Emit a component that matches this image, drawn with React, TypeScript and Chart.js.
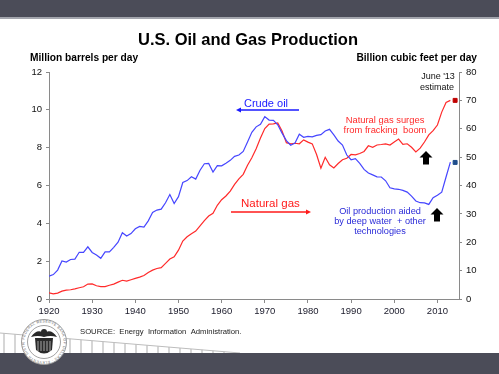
import React, { useEffect, useRef } from "react";
import { Chart, registerables } from "chart.js";

Chart.register(...registerables);

const startYear = 1920;
const years: number[] = Array.from({ length: 94 }, (_, i) => startYear + i);

// Crude oil, million barrels per day (left axis)
const crudeOil: number[] = [
  1.21, 1.29, 1.53, 2.01, 1.95, 2.09, 2.11, 2.47, 2.46, 2.76,
  2.46, 2.33, 2.15, 2.49, 2.49, 2.73, 3.0, 3.5, 3.33, 3.46,
  3.71, 3.84, 3.8, 4.13, 4.58, 4.7, 4.75, 5.09, 5.52, 5.05,
  5.41, 6.16, 6.26, 6.46, 6.34, 6.81, 7.15, 7.17, 6.71, 7.05,
  7.04, 7.18, 7.33, 7.54, 7.61, 7.8, 8.3, 8.81, 9.1, 9.24,
  9.64, 9.46, 9.44, 9.21, 8.77, 8.37, 8.13, 8.24, 8.71, 8.55,
  8.6, 8.57, 8.65, 8.69, 8.88, 8.97, 8.68, 8.35, 8.14, 7.61,
  7.36, 7.42, 7.17, 6.85, 6.66, 6.56, 6.46, 6.45, 6.25, 5.88,
  5.82, 5.8, 5.74, 5.65, 5.44, 5.18, 5.09, 5.08, 5.0, 5.35,
  5.48, 5.65, 6.45, 7.24,
];

// Natural gas, billion cubic feet per day (right axis)
const naturalGas: number[] = [
  2.19, 1.81, 2.08, 2.77, 3.12, 3.26, 3.59, 3.97, 4.3, 5.26,
  5.32, 4.68, 4.36, 4.38, 4.85, 5.26, 5.95, 6.6, 6.3, 6.79,
  7.29, 7.7, 8.3, 9.34, 10.16, 10.74, 11.04, 12.55, 14.11, 14.85,
  17.21, 20.44, 21.95, 23.01, 23.95, 25.78, 27.62, 29.26, 30.22, 33.01,
  34.99, 36.3, 38.03, 40.41, 42.36, 43.95, 47.15, 49.78, 52.93, 56.71,
  60.05, 61.62, 61.73, 62.05, 59.18, 55.1, 54.66, 54.88, 54.71, 56.08,
  55.29, 54.68, 50.9, 46.08, 49.95, 47.32, 46.19, 47.75, 49.1, 49.59,
  50.93, 50.77, 51.26, 52.0, 54.0, 53.45, 54.27, 54.44, 54.68, 54.27,
  55.34, 56.36, 54.49, 54.71, 53.48, 51.86, 53.18, 55.34, 57.84, 59.32,
  61.32, 65.86, 69.26, 70.0,
];

// June '13 estimates
const estimateYear = 2014.1;
const gasEstimate = 70.0;
const oilEstimate = 7.22;

const xMin = 1920;
const xMax = 2015;
const leftMax = 12;
const leftStep = 2;
const rightMax = 80;
const rightStep = 10;

const FONT = '"Liberation Sans", Arial, Helvetica, sans-serif';

function upArrow(ctx: CanvasRenderingContext2D, cx: number, top: number) {
  ctx.beginPath();
  ctx.moveTo(cx, top);
  ctx.lineTo(cx + 6.5, top + 6.5);
  ctx.lineTo(cx + 3, top + 6.5);
  ctx.lineTo(cx + 3, top + 13.5);
  ctx.lineTo(cx - 3, top + 13.5);
  ctx.lineTo(cx - 3, top + 6.5);
  ctx.lineTo(cx - 6.5, top + 6.5);
  ctx.closePath();
  ctx.fillStyle = "#000";
  ctx.fill();
}

const annotationPlugin = {
  id: "annotations",
  afterDraw(chart: any) {
    const ctx: CanvasRenderingContext2D = chart.ctx;
    ctx.save();
    ctx.textBaseline = "middle";

    // Title
    ctx.fillStyle = "#000";
    ctx.textAlign = "center";
    ctx.font = `bold 16.5px ${FONT}`;
    ctx.fillText("U.S. Oil and Gas Production", 248, 40);

    // Axis titles
    ctx.font = `bold 10.2px ${FONT}`;
    ctx.textAlign = "left";
    ctx.fillText("Million barrels per day", 30, 58);
    ctx.textAlign = "right";
    ctx.fillText("Billion cubic feet per day", 477, 58);

    // June '13 estimate
    ctx.font = `9px ${FONT}`;
    ctx.textAlign = "center";
    ctx.fillStyle = "#111";
    ctx.fillText("June '13", 438, 77);
    ctx.fillText("estimate", 437, 88);

    // Crude oil label with arrow
    ctx.font = `11px ${FONT}`;
    ctx.fillStyle = "#1a1aff";
    ctx.textAlign = "left";
    ctx.fillText("Crude oil", 244, 104);
    ctx.strokeStyle = "#1a1aff";
    ctx.lineWidth = 1.3;
    ctx.beginPath();
    ctx.moveTo(239, 110);
    ctx.lineTo(299, 110);
    ctx.stroke();
    ctx.beginPath();
    ctx.moveTo(236, 110);
    ctx.lineTo(241, 107.5);
    ctx.lineTo(241, 112.5);
    ctx.closePath();
    ctx.fillStyle = "#1a1aff";
    ctx.fill();

    // Natural gas label with arrow
    ctx.fillStyle = "#ff1a1a";
    ctx.font = `11.5px ${FONT}`;
    ctx.fillText("Natural gas", 241, 204);
    ctx.strokeStyle = "#ff1a1a";
    ctx.beginPath();
    ctx.moveTo(231, 212);
    ctx.lineTo(307, 212);
    ctx.stroke();
    ctx.beginPath();
    ctx.moveTo(311, 212);
    ctx.lineTo(306, 209.5);
    ctx.lineTo(306, 214.5);
    ctx.closePath();
    ctx.fill();

    // Gas annotation
    ctx.font = `9.4px ${FONT}`;
    ctx.textAlign = "center";
    ctx.fillStyle = "#ff2a2a";
    ctx.fillText("Natural gas surges", 385, 120);
    ctx.fillText("from fracking  boom", 385, 130);

    // Oil annotation
    ctx.font = `9.2px ${FONT}`;
    ctx.fillStyle = "#2a2ad8";
    ctx.fillText("Oil production aided", 380, 211);
    ctx.fillText("by deep water  + other", 380, 221);
    ctx.fillText("technologies", 380, 231);

    upArrow(ctx, 426, 151);
    upArrow(ctx, 437, 208);

    // Source
    ctx.textAlign = "left";
    ctx.fillStyle = "#222";
    ctx.font = `7.7px ${FONT}`;
    ctx.fillText("SOURCE:  Energy  Information  Administration.", 80, 332);

    ctx.restore();
  },
};

function Decorations() {
  const stripes: number[] = [];
  for (let x = 4; x < 245; x += 11) stripes.push(x);
  const yEdge = (x: number) => 333 + (x / 240) * 20;
  return (
    <svg
      width={499}
      height={374}
      style={{ position: "absolute", left: 0, top: 0 }}
    >
      <rect x={0} y={0} width={499} height={17} fill="#4b4c58" />
      <rect x={0} y={17} width={499} height={2} fill="#a3a5ad" />
      {stripes.map((x) => (
        <line
          key={x}
          x1={x}
          x2={x}
          y1={yEdge(x)}
          y2={353}
          stroke="#c9c9c9"
          strokeWidth={1.5}
        />
      ))}
      <line x1={0} y1={333} x2={240} y2={353} stroke="#bdbdbd" strokeWidth={1} />
      <rect x={0} y={353} width={499} height={21} fill="#4b4c58" />
      {/* Seal */}
      <circle cx={44} cy={342} r={22.5} fill="#fff" stroke="#9a9a9a" strokeWidth={1} />
      <circle cx={44} cy={342} r={16.5} fill="#fff" stroke="#8a8a8a" strokeWidth={0.8} />
      <defs>
        <path id="sealRing" d="M 44 342 m -19.5 0 a 19.5 19.5 0 1 1 39 0 a 19.5 19.5 0 1 1 -39 0" />
      </defs>
      <text fontSize={3.6} fill="#666" fontFamily="Liberation Sans, Arial" letterSpacing={0.4}>
        <textPath href="#sealRing" startOffset="2%">
          FEDERAL RESERVE BANK OF DALLAS · ELEVENTH DISTRICT ·
        </textPath>
      </text>
      <path d="M 31 337 Q 37 328 44 333 Q 51 328 57 337 Q 50 335 44 337 Q 38 335 31 337 Z" fill="#2a2a2a" />
      <circle cx={44} cy={332} r={3} fill="#2a2a2a" />
      <path d="M 35 338 L 53 338 L 52 350 Q 44 357 36 350 Z" fill="#2a2a2a" />
      {[38, 41, 44, 47, 50].map((x) => (
        <line key={x} x1={x} x2={x} y1={341} y2={351} stroke="#ddd" strokeWidth={0.7} />
      ))}
    </svg>
  );
}

export default function App() {
  const canvasRef = useRef<HTMLCanvasElement | null>(null);

  useEffect(() => {
    if (!canvasRef.current) return;
    const oilData = years.map((y, i) => ({ x: y, y: crudeOil[i] }));
    const gasData = years.map((y, i) => ({ x: y, y: naturalGas[i] }));
    const tickFont = { family: FONT, size: 9.5 };
    const chart = new Chart(canvasRef.current, {
      type: "line",
      data: {
        datasets: [
          {
            label: "Crude oil",
            data: oilData,
            yAxisID: "y",
            borderColor: "#4646ff",
            borderWidth: 1.2,
            pointRadius: 0,
            tension: 0,
          },
          {
            label: "Natural gas",
            data: gasData,
            yAxisID: "y1",
            borderColor: "#ff2a2a",
            borderWidth: 1.2,
            pointRadius: 0,
            tension: 0,
          },
          {
            label: "Gas estimate",
            data: [{ x: estimateYear, y: gasEstimate }],
            yAxisID: "y1",
            showLine: false,
            pointStyle: "rect",
            pointRadius: 2.8,
            backgroundColor: "#c00000",
            borderColor: "#c00000",
          },
          {
            label: "Oil estimate",
            data: [{ x: estimateYear, y: oilEstimate }],
            yAxisID: "y",
            showLine: false,
            pointStyle: "rect",
            pointRadius: 2.8,
            backgroundColor: "#1f4e8c",
            borderColor: "#1f4e8c",
          },
        ],
      },
      options: {
        responsive: false,
        animation: false,
        layout: { padding: { top: 72, left: 0, right: 0, bottom: 0 } },
        plugins: {
          legend: { display: false },
          tooltip: { enabled: false },
          title: { display: false },
        },
        scales: {
          x: {
            type: "linear",
            min: xMin,
            max: xMax,
            afterFit: (s: any) => {
              s.height = 75;
            },
            ticks: {
              stepSize: 10,
              includeBounds: false,
              autoSkip: false,
              maxRotation: 0,
              font: tickFont,
              color: "#1a1a2a",
              padding: 3,
              callback: (v: any) => String(v),
            },
            grid: { drawOnChartArea: false, tickLength: 4, color: "#8a8a8a" },
            border: { color: "#8a8a8a", width: 1 },
          },
          y: {
            position: "left",
            min: 0,
            max: leftMax,
            afterFit: (s: any) => {
              s.width = 49;
            },
            ticks: {
              stepSize: leftStep,
              font: tickFont,
              color: "#111",
              padding: 4,
            },
            grid: { drawOnChartArea: false, tickLength: 3, color: "#8a8a8a" },
            border: { color: "#8a8a8a", width: 1 },
          },
          y1: {
            position: "right",
            min: 0,
            max: rightMax,
            afterFit: (s: any) => {
              s.width = 40;
            },
            ticks: {
              stepSize: rightStep,
              font: tickFont,
              color: "#111",
              padding: 4,
            },
            grid: { drawOnChartArea: false, tickLength: 3, color: "#8a8a8a" },
            border: { color: "#8a8a8a", width: 1 },
          },
        },
      },
      plugins: [annotationPlugin],
    } as any);
    return () => chart.destroy();
  }, []);

  return (
    <div
      style={{
        position: "fixed",
        left: 0,
        top: 0,
        width: 499,
        height: 374,
        background: "#fff",
        overflow: "hidden",
      }}
    >
      <Decorations />
      <canvas
        ref={canvasRef}
        width={499}
        height={374}
        style={{ position: "absolute", left: 0, top: 0 }}
      />
    </div>
  );
}
